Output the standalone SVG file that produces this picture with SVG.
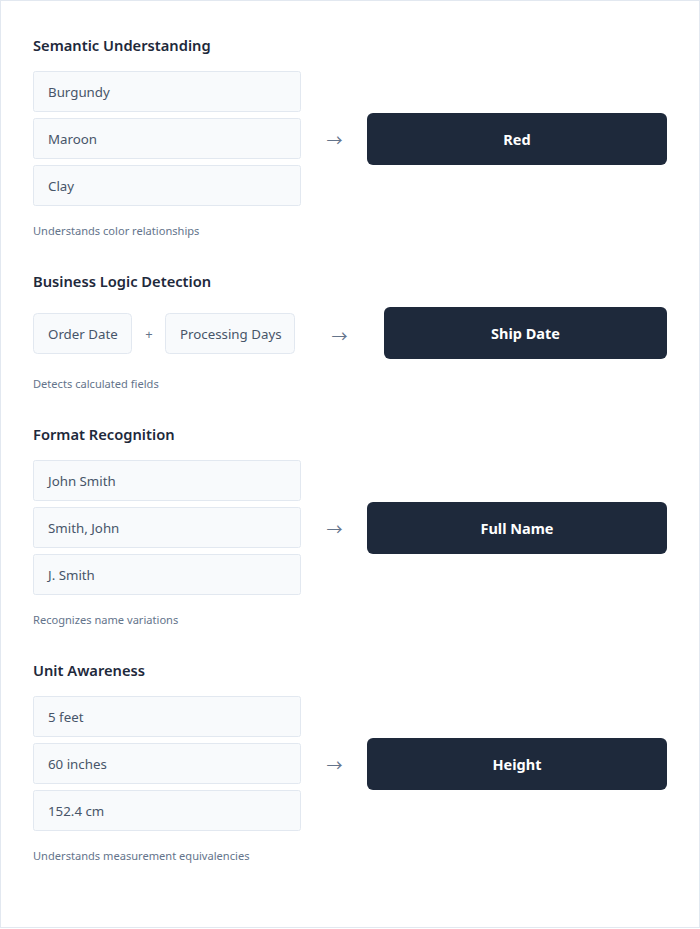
<svg xmlns="http://www.w3.org/2000/svg" width="700" height="929" viewBox="0 0 700 929">
<style>
.frame{fill:#ffffff;stroke:#e2e8f0;stroke-width:1}
.title{font-family:"Noto Sans","Open Sans",sans-serif;font-size:14.7px;font-weight:600;fill:#1e293b}
.in{fill:#f8fafc;stroke:#e2e8f0;stroke-width:1}
.it{font-family:"Noto Sans","Open Sans",sans-serif;font-size:13.3px;fill:#475569}
.cap{font-family:"Noto Sans","Open Sans",sans-serif;font-size:11.1px;fill:#64748b}
.out{fill:#1e293b}
.ot{font-family:"Noto Sans","Open Sans",sans-serif;font-size:14.5px;font-weight:700;fill:#ffffff;text-anchor:middle}
.arr{font-family:"Noto Sans CJK SC",sans-serif;font-size:16px;fill:#64748b;text-anchor:middle}
.plus{font-family:"Noto Sans",sans-serif;font-size:13px;fill:#64748b;text-anchor:middle}
</style>
<rect class="frame" x="0.5" y="0.5" width="699" height="927"/>

<g id="section-semantic">
<text class="title" x="33" y="51">Semantic Understanding</text>
<g id="n-burgundy"><rect class="in" x="33.5" y="71.5" width="267" height="40" rx="2"/><text class="it" x="48" y="97">Burgundy</text></g>
<g id="n-maroon"><rect class="in" x="33.5" y="118.5" width="267" height="40" rx="2"/><text class="it" x="48" y="144">Maroon</text></g>
<g id="n-clay"><rect class="in" x="33.5" y="165.5" width="267" height="40" rx="2"/><text class="it" x="48" y="191">Clay</text></g>
<text class="cap" x="33" y="235">Understands color relationships</text>
<g id="n-red"><rect class="out" x="367" y="113" width="300" height="52" rx="6"/><text class="ot" x="517" y="145">Red</text></g>
</g>

<g id="section-business">
<text class="title" x="33" y="287">Business Logic Detection</text>
<g id="n-orderdate"><rect class="in" x="33.5" y="313.5" width="98" height="40" rx="4"/><text class="it" x="48" y="339">Order Date</text></g>
<text class="plus" x="149" y="339">+</text>
<g id="n-processing"><rect class="in" x="165.5" y="313.5" width="129" height="40" rx="4"/><text class="it" x="180" y="339">Processing Days</text></g>
<text class="cap" x="33" y="388">Detects calculated fields</text>
<g id="n-shipdate"><rect class="out" x="384" y="307" width="283" height="52" rx="6"/><text class="ot" x="525.5" y="339">Ship Date</text></g>
</g>

<g id="section-format">
<text class="title" x="33" y="440">Format Recognition</text>
<g id="n-johnsmith"><rect class="in" x="33.5" y="460.5" width="267" height="40" rx="2"/><text class="it" x="48" y="486">John Smith</text></g>
<g id="n-smithjohn"><rect class="in" x="33.5" y="507.5" width="267" height="40" rx="2"/><text class="it" x="48" y="533">Smith, John</text></g>
<g id="n-jsmith"><rect class="in" x="33.5" y="554.5" width="267" height="40" rx="2"/><text class="it" x="48" y="580">J. Smith</text></g>
<text class="cap" x="33" y="624">Recognizes name variations</text>
<g id="n-fullname"><rect class="out" x="367" y="502" width="300" height="52" rx="6"/><text class="ot" x="517" y="534">Full Name</text></g>
</g>

<g id="section-unit">
<text class="title" x="33" y="676">Unit Awareness</text>
<g id="n-5feet"><rect class="in" x="33.5" y="696.5" width="267" height="40" rx="2"/><text class="it" x="48" y="722">5 feet</text></g>
<g id="n-60inches"><rect class="in" x="33.5" y="743.5" width="267" height="40" rx="2"/><text class="it" x="48" y="769">60 inches</text></g>
<g id="n-152cm"><rect class="in" x="33.5" y="790.5" width="267" height="40" rx="2"/><text class="it" x="48" y="816">152.4 cm</text></g>
<text class="cap" x="33" y="860">Understands measurement equivalencies</text>
<g id="n-height"><rect class="out" x="367" y="738" width="300" height="52" rx="6"/><text class="ot" x="517" y="770">Height</text></g>
</g>

<g id="connectors">
<text class="arr" x="334.5" y="146">→</text>
<text class="arr" x="339.5" y="342">→</text>
<text class="arr" x="334.5" y="535">→</text>
<text class="arr" x="334.5" y="771">→</text>
</g>
</svg>
